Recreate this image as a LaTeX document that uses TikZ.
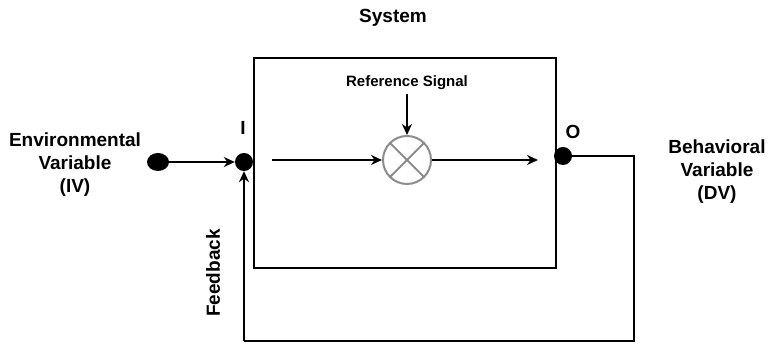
\documentclass[tikz,border=0pt]{standalone}
\usepackage{fontspec}
\setmainfont{Liberation Sans}
\usetikzlibrary{arrows.meta,shapes.geometric}

\begin{document}
\begin{tikzpicture}[x=1pt, y=1pt,
    dot/.style ={circle, fill, inner sep = 0pt, minimum size=18pt},
    wire/.style ={line width=2.8pt},
    arr/.style ={line width=2.8pt, -{Stealth[length=11pt,width=10pt]}},
    label/.style ={font=\bfseries\fontsize{19}{23}\selectfont, align=center}]
   \useasboundingbox (0,0) rectangle (777,344);

   \node[draw, line width=2.8pt, minimum width=302pt, minimum height=210pt] (sys) at (405,181) {};
   \node[label] (systxt) at (393,326) {System};

   \node[ellipse, fill, inner sep=0pt, minimum width=22pt, minimum height=18pt] (env) at (158,182) {};
   \node[dot] (in) at (244,182) {};
   \node[dot] (out) at (563,188) {};
   \node[label] at (243,216) {I};
   \node[label] at (573,212) {O};

   \node[circle, draw=black!45, line width=2pt, minimum size=48pt, inner sep=0pt] (cmp) at (407,184) {};
   \draw[black!45, line width=2pt] (cmp.north west) -- (cmp.south east);
   \draw[black!45, line width=2pt] (cmp.north east) -- (cmp.south west);

   \node[label, font=\bfseries\fontsize{15}{18}\selectfont] (ref) at (407,261) {Reference Signal};

   \node[label] (iv) at (75,179) {Environmental\\Variable\\(IV)};
   \node[label] (dv) at (717,172) {Behavioral\\Variable\\(DV)};
   \node[label, rotate=90] (fb) at (213,71) {Feedback};

   \coordinate (start) at (272,184);
   \coordinate (stop) at (538,184);
   \coordinate (c1) at (634,188);
   \coordinate (c2) at (634,3);
   \coordinate (c3) at (244,3);

   \draw[arr] (env) -- (in);
   \draw[arr] (start) -- (cmp);
   \draw[arr] (cmp) -- (stop);
   \draw[arr] (ref) -- (cmp);

   % feedback loop
   \draw[wire] (out) -- (c1) -- (c2) -- (c3);
   \draw[arr] (c3) -- (in);

 \end{tikzpicture}
\end{document}
